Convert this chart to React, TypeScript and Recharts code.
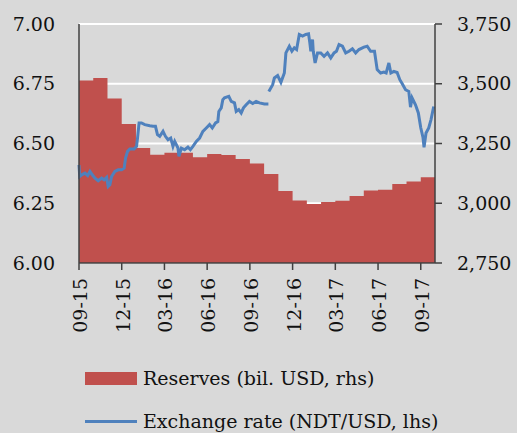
import { ComposedChart, Area, Line, XAxis, YAxis, CartesianGrid } from "recharts";

// x is measured in months from the 09-15 tick
const tickMonths = [0, 3, 6, 9, 12, 15, 18, 21, 24];
const tickLabels = ["09-15", "12-15", "03-16", "06-16", "09-16", "12-16", "03-17", "06-17", "09-17"];

const leftTicks = [6, 6.25, 6.5, 6.75, 7];
const rightTicks = [2750, 3000, 3250, 3500, 3750];

// monthly reserves, bil. USD (rhs), Sep-15 .. Sep-17
const reserves = [
  3514, 3524, 3438, 3332, 3231, 3203, 3211, 3211, 3192, 3206, 3202, 3185, 3166,
  3122, 3051, 3011, 2997, 3005, 3010, 3030, 3053, 3056, 3081, 3091, 3109,
];

// exchange rate, NDT/USD (lhs) - first stretch, before the break in the series
const rateMonthsA = [
  0, 0.05, 0.19, 0.42, 0.61, 0.77, 0.93, 1.12, 1.35, 1.59, 1.77, 1.94, 2.05, 2.17, 2.29, 2.52,
  2.75, 2.99, 3.17, 3.27, 3.41, 3.57, 3.87, 4.04, 4.11, 4.22, 4.39, 4.62, 4.97, 5.2, 5.37, 5.51,
  5.67, 5.9, 6.07, 6.25, 6.44, 6.6, 6.72, 6.95, 7.02, 7.19, 7.42, 7.65, 7.82, 8.0, 8.24, 8.47,
  8.7, 8.94, 9.17, 9.36, 9.59, 9.75, 9.82, 9.99, 10.1, 10.22, 10.52, 10.69, 10.92, 11.04, 11.22,
  11.39, 11.55, 11.74, 11.97, 12.2, 12.44, 12.67, 13.02, 13.3,
];
const rateValuesA = [
  6.41, 6.362, 6.369, 6.376, 6.366, 6.383, 6.369, 6.355, 6.344, 6.355, 6.348, 6.358, 6.32, 6.327,
  6.362, 6.383, 6.39, 6.39, 6.397, 6.439, 6.467, 6.477, 6.477, 6.488, 6.523, 6.586, 6.586, 6.579,
  6.574, 6.572, 6.572, 6.537, 6.53, 6.551, 6.53, 6.516, 6.523, 6.488, 6.509, 6.481, 6.446, 6.481,
  6.474, 6.485, 6.474, 6.488, 6.509, 6.523, 6.551, 6.565, 6.579, 6.565, 6.586, 6.592, 6.634,
  6.649, 6.683, 6.691, 6.697, 6.676, 6.67, 6.634, 6.642, 6.628, 6.649, 6.662, 6.676, 6.667,
  6.676, 6.67, 6.665, 6.665,
];

// second stretch, after the break
const rateMonthsB = [
  13.33, 13.6, 13.72, 13.95, 14.18, 14.42, 14.53, 14.77, 14.95, 15.12, 15.28, 15.47, 15.7, 15.93,
  16.12, 16.21, 16.28, 16.4, 16.45, 16.58, 16.75, 16.98, 17.21, 17.45, 17.68, 17.91, 18.08, 18.26,
  18.5, 18.73, 18.96, 19.2, 19.43, 19.66, 20.01, 20.24, 20.48, 20.75, 20.94, 21.18, 21.41, 21.57,
  21.76, 21.9, 22.11, 22.34, 22.53, 22.69, 22.93, 23.16, 23.28, 23.39, 23.63, 23.83, 24.0, 24.16,
  24.23, 24.37, 24.56, 24.72, 24.91,
];
const rateValuesB = [
  6.718, 6.746, 6.774, 6.784, 6.756, 6.795, 6.879, 6.907, 6.886, 6.9, 6.893, 6.956, 6.949, 6.956,
  6.959, 6.921, 6.886, 6.935, 6.886, 6.837, 6.879, 6.879, 6.865, 6.879, 6.858, 6.879, 6.886, 6.914,
  6.907, 6.879, 6.886, 6.896, 6.879, 6.893, 6.903, 6.907, 6.886, 6.886, 6.809, 6.795, 6.799, 6.795,
  6.837, 6.795, 6.802, 6.797, 6.767, 6.751, 6.725, 6.718, 6.652, 6.691, 6.662, 6.628, 6.566, 6.524,
  6.484, 6.544, 6.565, 6.6, 6.655,
];

type Row = { m: number; reserves?: number; rateA?: number; rateB?: number };

const rows: Row[] = [
  ...reserves.map((v, i) => ({ m: i, reserves: v })),
  { m: reserves.length, reserves: reserves[reserves.length - 1] },
  ...rateMonthsA.map((m, i) => ({ m, rateA: rateValuesA[i] })),
  ...rateMonthsB.map((m, i) => ({ m, rateB: rateValuesB[i] })),
].sort((a, b) => a.m - b.m);

const FONT = "'DejaVu Serif', serif";
const FS = 19;
const RED = "#c0504d";
const BLUE = "#4f81bd";
const AXIS = "#404040";
const TEXT = "#111";

const XTick = (props: any) => {
  const { x, y, payload } = props;
  const label = tickLabels[tickMonths.indexOf(payload.value)];
  return (
    <text
      x={x + 1}
      y={y}
      transform={`rotate(-90, ${x + 1}, ${y})`}
      textAnchor="end"
      dominantBaseline="central"
      fontFamily={FONT}
      fontSize={FS}
      fill={TEXT}
    >
      {label}
    </text>
  );
};

export default function App() {
  return (
    <div
      style={{
        position: "absolute",
        left: 0,
        top: 0,
        width: 517,
        height: 433,
        background: "#d9d9d9",
        fontFamily: FONT,
        overflow: "hidden",
      }}
    >
      <ComposedChart width={517} height={433} data={rows} margin={{ top: 24, right: 0, bottom: 90, left: 0 }}>
        <CartesianGrid yAxisId="left" horizontal vertical={false} stroke="#ffffff" strokeWidth={2} />
        <XAxis
          dataKey="m"
          type="number"
          domain={[0, 25]}
          ticks={tickMonths}
          tick={<XTick />}
          height={80}
          tickSize={7}
          tickMargin={8}
          interval={0}
          axisLine={{ stroke: AXIS, strokeWidth: 1.5 }}
          tickLine={{ stroke: AXIS, strokeWidth: 1.5 }}
        />
        <YAxis
          yAxisId="left"
          orientation="left"
          width={79}
          domain={[6, 7]}
          ticks={leftTicks}
          tickFormatter={(v: number) => v.toFixed(2)}
          tickSize={0}
          tickMargin={24}
          tickLine={false}
          axisLine={{ stroke: AXIS, strokeWidth: 1.5 }}
          tick={{ fontFamily: FONT, fontSize: FS, fill: TEXT }}
        />
        <YAxis
          yAxisId="right"
          orientation="right"
          width={82}
          domain={[2750, 3750]}
          ticks={rightTicks}
          tickFormatter={(v: number) => v.toLocaleString("en-US")}
          tickSize={7}
          tickMargin={15}
          tickLine={{ stroke: AXIS, strokeWidth: 1.5 }}
          axisLine={{ stroke: AXIS, strokeWidth: 1.5 }}
          tick={{ fontFamily: FONT, fontSize: FS, fill: TEXT, textAnchor: "start" }}
        />
        <Area
          yAxisId="right"
          dataKey="reserves"
          type="stepAfter"
          stroke="none"
          fill={RED}
          fillOpacity={1}
          connectNulls
          dot={false}
          activeDot={false}
          isAnimationActive={false}
        />
        <Line
          yAxisId="left"
          dataKey="rateA"
          type="linear"
          stroke={BLUE}
          strokeWidth={3}
          connectNulls
          dot={false}
          activeDot={false}
          isAnimationActive={false}
        />
        <Line
          yAxisId="left"
          dataKey="rateB"
          type="linear"
          stroke={BLUE}
          strokeWidth={3}
          connectNulls
          dot={false}
          activeDot={false}
          isAnimationActive={false}
        />
      </ComposedChart>
      <div style={{ position: "absolute", left: 85, top: 372, width: 52, height: 13, background: RED }} />
      <div style={{ position: "absolute", left: 143, top: 365, fontSize: FS, lineHeight: "26px", color: TEXT, whiteSpace: "nowrap" }}>
        Reserves (bil. USD, rhs)
      </div>
      <div style={{ position: "absolute", left: 85, top: 420, width: 52, height: 3, background: BLUE }} />
      <div style={{ position: "absolute", left: 143, top: 408, fontSize: FS, lineHeight: "26px", color: TEXT, whiteSpace: "nowrap" }}>
        Exchange rate (NDT/USD, lhs)
      </div>
    </div>
  );
}
